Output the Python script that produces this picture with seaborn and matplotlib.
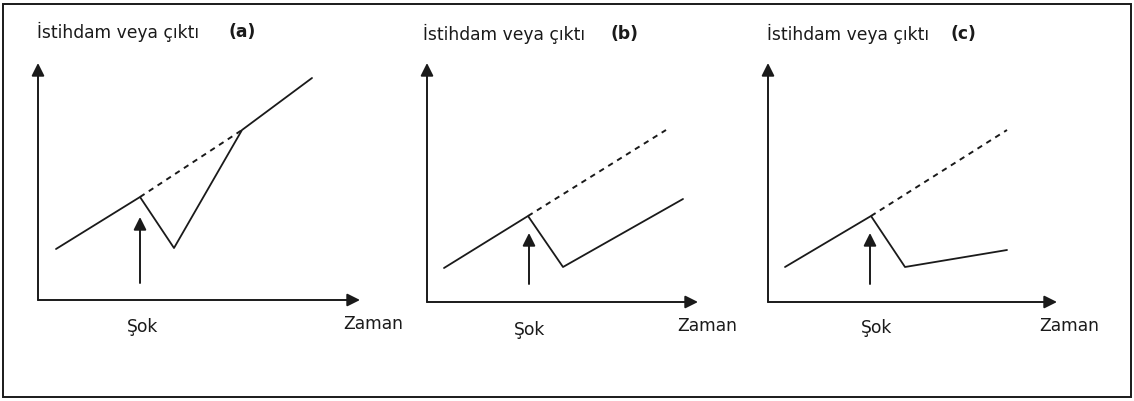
import matplotlib
matplotlib.use("Agg")
import matplotlib.pyplot as plt
import seaborn as sns
import pandas as pd
from matplotlib.patches import Rectangle

# Each panel: time (x) and employment/output level (y), arbitrary units
panel_labels = ["(a)", "(b)", "(c)"]
y_title = "İstihdam veya çıktı"
x_title = "Zaman"
shock_label = "Şok"

# solid path: before shock, drop, recovery
a_time = [1.8, 10.2, 13.6, 20.4, 27.4]
a_level = [5.1, 10.3, 5.2, 17.0, 22.2]
b_time = [1.7, 10.1, 13.6, 25.6]
b_level = [3.4, 8.6, 3.5, 10.3]
c_time = [1.7, 10.3, 13.7, 23.9]
c_level = [3.5, 8.6, 3.5, 5.2]

# dashed trend (no-shock path)
a_trend_time = [10.2, 20.4]
a_trend_level = [10.3, 17.0]
b_trend_time = [10.1, 23.9]
b_trend_level = [8.6, 17.2]
c_trend_time = [10.3, 23.9]
c_trend_level = [8.6, 17.2]

# shock arrow (time, from level, to level)
shock_time = [10.2, 10.2, 10.2]
shock_from = [1.7, 1.8, 1.8]
shock_to = [8.3, 6.9, 6.9]

# axis arrow lengths
x_axis_len = [32.2, 27.1, 28.9]
y_axis_len = [23.7, 23.9, 23.9]

# ---- layout (pixels) ----
W, H = 1134, 401
origins = [(38, 300), (427, 302), (768, 302)]
title_x = [-0.1, -0.4, -0.1]
label_x = [19.0, 18.3, 18.2]
zaman_x = [30.5, 25.0, 27.1]
sok_x = [10.5, 10.3, 10.9]
sok_y = [-2.7, -2.8, -2.6]

sns.set_style("white")
plt.rcParams["font.family"] = ["DejaVu Sans"]
ink = "#1a1a1a"
fs = 12.3

fig = plt.figure(figsize=(W / 100, H / 100), dpi=100)

paths = [(a_time, a_level), (b_time, b_level), (c_time, c_level)]
trends = [(a_trend_time, a_trend_level), (b_trend_time, b_trend_level),
          (c_trend_time, c_trend_level)]

for i in range(3):
    x0, y0 = origins[i]
    # 1 data unit = 10 px
    ax = fig.add_axes([x0 / W, (H - y0) / H, 340 / W, 270 / H])
    ax.set_xlim(0, 34)
    ax.set_ylim(0, 27)
    ax.axis("off")

    df = pd.DataFrame({"t": paths[i][0], "v": paths[i][1]})
    sns.lineplot(data=df, x="t", y="v", sort=False, color=ink, lw=1.3,
                 ax=ax, clip_on=False)
    dt = pd.DataFrame({"t": trends[i][0], "v": trends[i][1]})
    sns.lineplot(data=dt, x="t", y="v", sort=False, color=ink, lw=1.4,
                 linestyle=(0, (2.8, 2.6)), ax=ax, clip_on=False)

    arrow = dict(arrowstyle="-|>", lw=1.4, color=ink, mutation_scale=19,
                 shrinkA=0, shrinkB=0)
    ax.annotate("", xy=(x_axis_len[i], 0), xytext=(0, 0), arrowprops=arrow,
                annotation_clip=False)
    ax.annotate("", xy=(0, y_axis_len[i]), xytext=(0, 0), arrowprops=arrow,
                annotation_clip=False)
    ax.annotate("", xy=(shock_time[i], shock_to[i]),
                xytext=(shock_time[i], shock_from[i]), arrowprops=arrow,
                annotation_clip=False)

    ax.text(title_x[i], 26.8, y_title, fontsize=fs, color=ink,
            ha="left", va="center")
    ax.text(label_x[i], 26.8, panel_labels[i], fontsize=fs, color=ink,
            fontweight="bold", ha="left", va="center")
    ax.text(zaman_x[i], -2.4, x_title, fontsize=fs, color=ink,
            ha="left", va="center")
    ax.text(sok_x[i], sok_y[i], shock_label, fontsize=fs, color=ink,
            ha="center", va="center")

# frame around the whole figure
fig.patches.append(Rectangle((3 / W, 4 / H), 1128 / W, 393 / H,
                             transform=fig.transFigure, fill=False,
                             lw=1.4, edgecolor=ink))

fig.savefig("out.png", dpi=100, facecolor="white")
